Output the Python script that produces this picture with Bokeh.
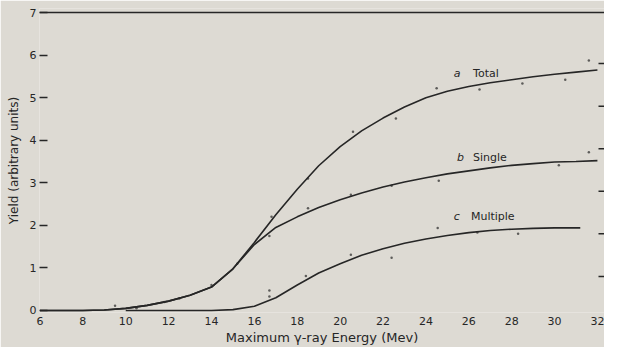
from bokeh.plotting import figure
from bokeh.models import Range1d, FixedTicker, Span
from bokeh.core.properties import value
from bokeh.embed import file_html
from bokeh.resources import INLINE

# ---- data ----
x_ticks = [6, 8, 10, 12, 14, 16, 18, 20, 22, 24, 26, 28, 30, 32]
y_ticks = [0, 1, 2, 3, 4, 5, 6, 7]
right_ticks = [0.8, 1.8, 2.8, 3.8, 4.8, 5.8]

energy = [6, 8, 9, 10, 11, 12, 13, 14, 15, 16, 17, 18, 19, 20, 21, 22, 23, 24, 25, 26, 27, 28, 29, 30, 31, 32]
total = [0, 0, 0.01, 0.05, 0.12, 0.22, 0.36, 0.55, 0.98, 1.6, 2.25, 2.85, 3.4, 3.85, 4.22, 4.52,
         4.78, 5.0, 5.15, 5.26, 5.35, 5.42, 5.49, 5.55, 5.6, 5.65]
single = [0, 0, 0.01, 0.05, 0.12, 0.22, 0.36, 0.55, 0.98, 1.55, 1.95, 2.2, 2.42, 2.6, 2.76, 2.9,
          3.02, 3.12, 3.21, 3.28, 3.35, 3.41, 3.45, 3.49, 3.5, 3.52]
energy_multiple = [10, 12, 13, 14, 15, 16, 17, 18, 19, 20, 21, 22, 23, 24, 25, 26, 27, 28, 29, 30, 31.2]
multiple = [0, 0, 0, 0, 0.02, 0.1, 0.3, 0.6, 0.88, 1.1, 1.3, 1.45, 1.58, 1.68, 1.76, 1.83, 1.88,
            1.91, 1.93, 1.94, 1.94]

pts_total_x = [16.8, 18.5, 20.6, 22.6, 24.5, 26.5, 28.5, 30.5, 31.6]
pts_total_y = [2.2, 3.1, 4.2, 4.51, 5.22, 5.19, 5.33, 5.42, 5.87]
pts_single_x = [9.5, 10.5, 11.8, 12.5, 14.0, 15.2, 16.7, 18.5, 20.5, 22.4, 24.6, 30.2, 31.6]
pts_single_y = [0.11, 0.05, 0.2, 0.28, 0.6, 1.1, 1.75, 2.4, 2.72, 2.93, 3.05, 3.41, 3.72]
pts_multiple_x = [16.7, 16.7, 18.4, 20.5, 22.4, 24.55, 26.4, 28.3]
pts_multiple_y = [0.47, 0.33, 0.81, 1.31, 1.24, 1.94, 1.83, 1.8]

curve_letters = ["a", "b", "c"]
curve_names = ["Total", "Single", "Multiple"]
letter_x = [25.3, 25.45, 25.3]
name_x = [26.2, 26.2, 26.1]
label_y = [5.57, 3.6, 2.2]

BG = "#dddad3"
INK = "#262626"
FONT = "DejaVu Sans"

X_START, X_END = 5.977, 32.33
Y_START, Y_END = -0.047, 7.094

p = figure(width=604, height=347, output_backend="svg", toolbar_location=None,
           x_range=Range1d(X_START, X_END), y_range=Range1d(Y_START, Y_END),
           min_border_left=39, min_border_right=0, min_border_top=8, min_border_bottom=35,
           background_fill_color=BG, border_fill_color=BG, outline_line_color=None)
p.grid.visible = False

# x axis
xa = p.xaxis[0]
xa.ticker = FixedTicker(ticks=x_ticks)
xa.axis_line_color = None
xa.major_tick_out = 0
xa.major_tick_in = 0
xa.major_tick_line_color = None
xa.minor_tick_line_color = None
xa.major_label_standoff = 4
xa.major_label_text_font = FONT
xa.major_label_text_font_size = "11px"
xa.major_label_text_color = INK
xa.axis_label = "Maximum γ-ray Energy (Mev)"
xa.axis_label_text_font = FONT
xa.axis_label_text_font_size = "13px"
xa.axis_label_text_font_style = "normal"
xa.axis_label_text_color = INK
xa.axis_label_standoff = 2

# y axis
ya = p.yaxis[0]
ya.ticker = FixedTicker(ticks=y_ticks)
ya.axis_line_color = None
ya.major_tick_out = 0
ya.major_tick_in = 8
ya.major_tick_line_width = 1.5
ya.major_tick_line_color = INK
ya.minor_tick_line_color = None
ya.major_label_standoff = 3
ya.major_label_text_font = FONT
ya.major_label_text_font_size = "11px"
ya.major_label_text_color = INK
ya.axis_label = "Yield (arbitrary units)"
ya.axis_label_text_font = FONT
ya.axis_label_text_font_size = "12px"
ya.axis_label_text_font_style = "normal"
ya.axis_label_text_color = INK
ya.axis_label_standoff = 6

# top frame line at 7
p.add_layout(Span(location=7, dimension="width", line_color=INK, line_width=1.6))

# right-hand tick marks (half of each dash falls inside the frame edge)
p.scatter([X_END] * len(right_ticks), right_ticks, marker="dash", size=12,
          line_color=INK, line_width=1.5)

# curves
p.line(energy, single, line_color=INK, line_width=1.6)
p.line(energy, total, line_color=INK, line_width=1.6)
p.line(energy_multiple, multiple, line_color=INK, line_width=1.6)

# measured points
for xs, ys in [(pts_total_x, pts_total_y), (pts_single_x, pts_single_y), (pts_multiple_x, pts_multiple_y)]:
    p.scatter(xs, ys, size=2.5, marker="circle", fill_color=INK, line_color=None, fill_alpha=0.7)

# curve labels
p.text(x=letter_x, y=label_y, text=curve_letters, text_font=value(FONT), text_font_size="11px",
       text_font_style="italic", text_color=INK, text_baseline="middle", text_align="left")
p.text(x=name_x, y=label_y, text=curve_names, text_font=value(FONT), text_font_size="11px",
       text_color=INK, text_baseline="middle", text_align="left")

open("out.html", "w").write(file_html(p, INLINE))
